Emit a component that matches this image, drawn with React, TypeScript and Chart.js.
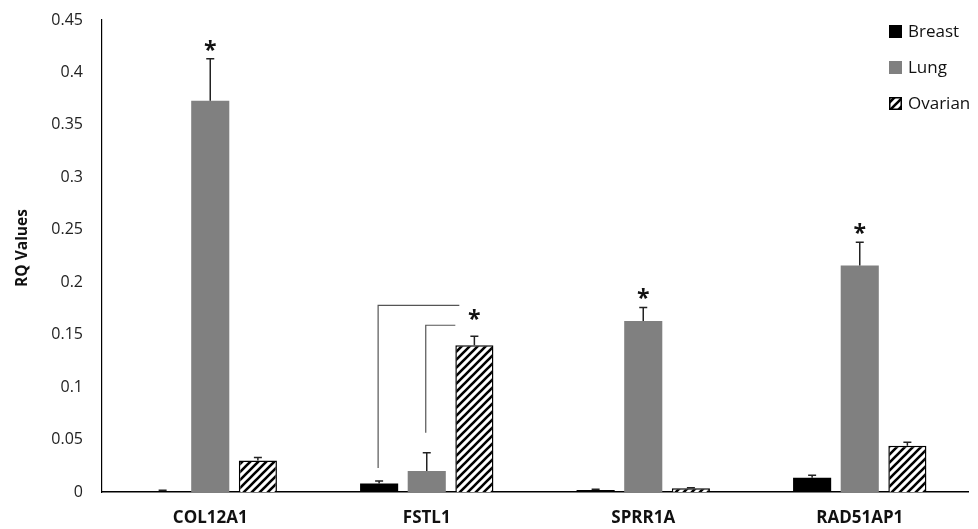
import React, { useEffect, useRef } from "react";
import { Chart, registerables } from "chart.js";

Chart.register(...registerables);

const categories = ["COL12A1", "FSTL1", "SPRR1A", "RAD51AP1"];
const seriesNames = ["Breast", "Lung", "Ovarian"];
const breast = [0.001, 0.008, 0.002, 0.0135];
const breastErr = [0.0006, 0.0025, 0.0006, 0.0025];
const lung = [0.373, 0.02, 0.163, 0.216];
const lungErr = [0.04, 0.0175, 0.013, 0.022];
const ovarian = [0.03, 0.14, 0.0035, 0.044];
const ovarianErr = [0.003, 0.0085, 0.0006, 0.0035];
// which series (index) carries the significance asterisk per category
const sigSeries = [1, 2, 1, 1];
// bracket in FSTL1: [categoryIndex, fromSeries, toSeries, bottomValue, topValue]
const brackets: [number, number, number, number, number][] = [
  [1, 0, 2, 0.023, 0.178],
  [1, 1, 2, 0.0565, 0.159],
];
const yTicks = [0, 0.05, 0.1, 0.15, 0.2, 0.25, 0.3, 0.35, 0.4, 0.45];
const yTitle = "RQ Values";

const FONT = "'Open Sans', 'Liberation Sans', sans-serif";

function makeHatch(): CanvasPattern | string {
  const c = document.createElement("canvas");
  const s = 8;
  c.width = s;
  c.height = s;
  const g = c.getContext("2d");
  if (!g) return "#fff";
  g.fillStyle = "#fff";
  g.fillRect(0, 0, s, s);
  g.strokeStyle = "#000";
  g.lineWidth = 2.6;
  g.beginPath();
  g.moveTo(-2, s + 2);
  g.lineTo(s + 2, -2);
  g.moveTo(-2, 2);
  g.lineTo(2, -2);
  g.moveTo(s - 2, s + 2);
  g.lineTo(s + 2, s - 2);
  g.stroke();
  const p = g.createPattern(c, "repeat");
  return p || "#fff";
}

export default function App() {
  const ref = useRef<HTMLCanvasElement>(null);
  useEffect(() => {
    document.body.style.margin = "0";
    document.body.style.overflow = "hidden";
    const canvas = ref.current;
    if (!canvas) return;
    const hatch = makeHatch();
    const errs = [breastErr, lungErr, ovarianErr];
    const vals = [breast, lung, ovarian];

    const overlay = {
      id: "overlay",
      afterDatasetsDraw(chart: any) {
        const ctx = chart.ctx;
        const y = chart.scales.y;
        ctx.save();
        // error bars
        ctx.strokeStyle = "#222";
        ctx.lineWidth = 1.5;
        for (let d = 0; d < 3; d++) {
          const meta = chart.getDatasetMeta(d);
          meta.data.forEach((bar: any, i: number) => {
            const top = y.getPixelForValue(vals[d][i]);
            const et = y.getPixelForValue(vals[d][i] + errs[d][i]);
            ctx.beginPath();
            ctx.moveTo(bar.x, top);
            ctx.lineTo(bar.x, et);
            ctx.moveTo(bar.x - 4, et);
            ctx.lineTo(bar.x + 4, et);
            ctx.stroke();
          });
        }
        // brackets
        ctx.strokeStyle = "#555";
        ctx.lineWidth = 1.2;
        brackets.forEach(([ci, from, to, bot, topV], k) => {
          const b1 = chart.getDatasetMeta(from).data[ci] as any;
          const b2 = chart.getDatasetMeta(to).data[ci] as any;
          const x1 = b1.x - 1;
          const x2 = b2.x - b2.width / 2 + (k === 0 ? 4 : 0);
          const yb = y.getPixelForValue(bot);
          const yt = y.getPixelForValue(topV);
          ctx.beginPath();
          ctx.moveTo(x1, yb);
          ctx.lineTo(x1, yt);
          ctx.lineTo(x2, yt);
          ctx.stroke();
        });
        // asterisks
        ctx.fillStyle = "#111";
        ctx.font = `bold 23px ${FONT}`;
        ctx.textAlign = "center";
        ctx.textBaseline = "top";
        sigSeries.forEach((d, i) => {
          const bar = chart.getDatasetMeta(d).data[i] as any;
          const et = y.getPixelForValue(vals[d][i] + errs[d][i]);
          const off = i === 1 ? 27 : 19;
          ctx.fillText("*", bar.x, et - off);
        });
        // y title
        ctx.save();
        ctx.translate(23, 248);
        ctx.rotate(-Math.PI / 2);
        ctx.font = `bold 15.5px ${FONT}`;
        ctx.textAlign = "center";
        ctx.textBaseline = "middle";
        ctx.fillStyle = "#111";
        ctx.fillText(yTitle, 0, 0);
        ctx.restore();
        // legend
        const fills = ["#000", "#808080", hatch];
        ctx.font = `17px ${FONT}`;
        ctx.textAlign = "left";
        ctx.textBaseline = "middle";
        seriesNames.forEach((n, k) => {
          const cy = 31 + k * 36;
          ctx.fillStyle = fills[k] as any;
          ctx.fillRect(889, cy - 6, 13, 13);
          if (k === 2) {
            ctx.strokeStyle = "#000";
            ctx.lineWidth = 1.5;
            ctx.strokeRect(889.75, cy - 5.25, 11.5, 11.5);
          }
          ctx.fillStyle = "#111";
          ctx.fillText(n, 908, cy + 1);
        });
        ctx.restore();
      },
    };

    const chart = new Chart(canvas, {
      type: "bar",
      data: {
        labels: categories,
        datasets: [
          { label: seriesNames[0], data: breast, backgroundColor: "#000", borderWidth: 0 },
          { label: seriesNames[1], data: lung, backgroundColor: "#808080", borderWidth: 0 },
          {
            label: seriesNames[2],
            data: ovarian,
            backgroundColor: hatch as any,
            borderColor: "#000",
            borderWidth: 1.5,
          },
        ],
      },
      options: {
        responsive: false,
        animation: false,
        layout: { padding: { top: 20, right: 10, left: 0, bottom: 0 } },
        datasets: { bar: { categoryPercentage: 0.66, barPercentage: 0.8 } },
        plugins: { legend: { display: false }, tooltip: { enabled: false } },
        scales: {
          x: {
            grid: { display: false, drawTicks: false },
            border: { display: true, color: "#000", width: 1.5 },
            ticks: {
              color: "#111",
              font: { family: FONT, size: 17, weight: "bold" },
              padding: 16,
            },
            afterFit(scale: any) {
              scale.height = 37;
              scale.paddingLeft = 0;
              scale.paddingRight = 0;
            },
          },
          y: {
            min: 0,
            max: 0.45,
            afterBuildTicks(scale: any) {
              scale.ticks = yTicks.map((v) => ({ value: v }));
            },
            grid: { display: false, drawTicks: false },
            border: { display: true, color: "#000", width: 1.2 },
            ticks: {
              color: "#222",
              font: { family: FONT, size: 16 },
              padding: 19,
              callback: (v: any) => String(Number(Number(v).toFixed(2))),
            },
            title: { display: false },
            afterFit(scale: any) {
              scale.width = 102;
              scale.paddingTop = 0;
              scale.paddingBottom = 0;
            },
          },
        },
      },
      plugins: [overlay],
    });
    return () => chart.destroy();
  }, []);
  return (
    <div style={{ width: 978, height: 529 }}>
      <canvas ref={ref} width={978} height={529} style={{ display: "block" }} />
    </div>
  );
}
